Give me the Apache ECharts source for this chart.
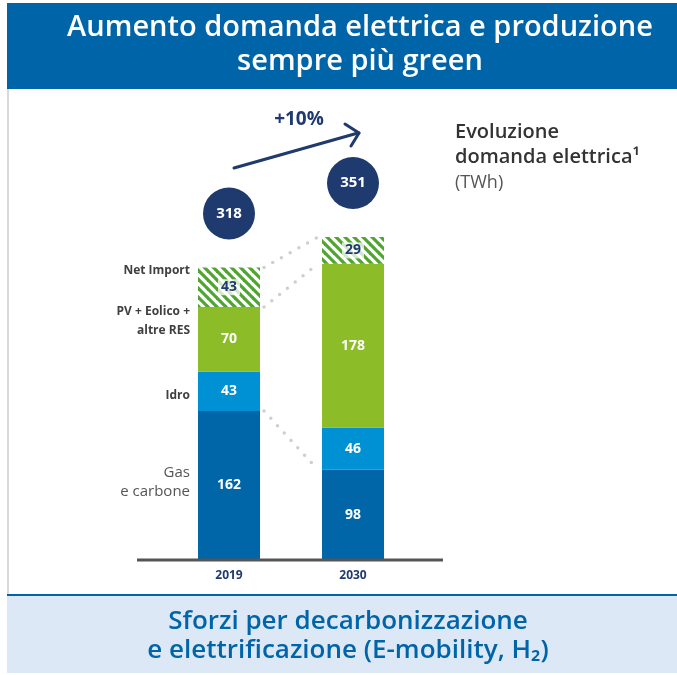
<!DOCTYPE html>
<html>
<head>
<meta charset="utf-8">
<script src="https://cdn.jsdelivr.net/npm/echarts@6/dist/echarts.min.js"></script>
<style>
  html, body { margin: 0; padding: 0; background: #fff; }
  #chart { width: 677px; height: 675px; }
</style>
</head>
<body>
<div id="chart"></div>
<script>
var years = ['2019', '2030']
var gasCarbone = [162, 98]
var idro = [43, 46]
var rinnovabili = [70, 178]
var netImport = [43, 29]
var totals = years.map(function (y, i) {
  return gasCarbone[i] + idro[i] + rinnovabili[i] + netImport[i]
})
var growthLabel = '+10%'

var navy = '#1f3a6e'
var font = '"Open Sans", "Noto Sans", sans-serif'

// hatched fill for Net Import
function hatch() {
  var s = 9
  var c = document.createElement('canvas')
  c.width = s
  c.height = s
  var ctx = c.getContext('2d')
  ctx.fillStyle = '#ffffff'
  ctx.fillRect(0, 0, s, s)
  ctx.strokeStyle = '#4fa52f'
  ctx.lineWidth = 3.2
  ;[-s, 0, s].forEach(function (k) {
    ctx.beginPath()
    ctx.moveTo(k - 1, -1)
    ctx.lineTo(k + s + 1, s + 1)
    ctx.stroke()
  })
  return c
}

var chart = echarts.init(document.getElementById('chart'))

function segLabel(color) {
  return {
    show: true,
    position: 'inside',
    color: color,
    fontSize: 14,
    fontWeight: 'bold',
    fontFamily: font
  }
}

function txt(text, x, y, fill, f, align) {
  return {
    type: 'text',
    x: x,
    y: y,
    style: {
      text: text,
      fill: fill,
      font: f,
      textAlign: align || 'left',
      textVerticalAlign: 'middle'
    }
  }
}

function seg(x1, y1, x2, y2, color, w) {
  return {
    type: 'line',
    shape: { x1: x1, y1: y1, x2: x2, y2: y2 },
    style: { stroke: color, lineWidth: w, lineCap: 'round' }
  }
}

var staticGraphics = [
  // title band
  { type: 'rect', shape: { x: 7, y: 3, width: 670, height: 86 }, style: { fill: '#0064a8' } },
  txt('Aumento domanda elettrica e produzione', 360, 28, '#fff', '600 29px ' + font, 'center'),
  txt('sempre più green', 360, 62, '#fff', '600 29px ' + font, 'center'),
  // left border
  { type: 'line', shape: { x1: 8, y1: 89, x2: 8, y2: 595 }, style: { stroke: '#d9d9d9', lineWidth: 2 } },
  // bottom band
  { type: 'rect', shape: { x: 7, y: 595, width: 670, height: 78 }, style: { fill: '#dce8f6' } },
  { type: 'line', shape: { x1: 7, y1: 595, x2: 677, y2: 595 }, style: { stroke: '#0064a8', lineWidth: 2 } },
  txt('Sforzi per decarbonizzazione', 348, 622, '#0064a8', '600 26px ' + font, 'center'),
  txt('e elettrificazione (E-mobility, H₂)', 348, 651, '#0064a8', '600 26px ' + font, 'center'),
  // axis baseline
  { type: 'line', shape: { x1: 137, y1: 560, x2: 443, y2: 560 }, style: { stroke: '#555', lineWidth: 3 }, z: 10 },
  // right-hand caption
  txt('Evoluzione', 455, 132, '#333', '600 20px ' + font),
  txt('domanda elettrica¹', 455, 157, '#333', '600 20px ' + font),
  txt('(TWh)', 455, 183, '#555', '18px ' + font),
  // growth arrow
  seg(234, 168, 358, 133, navy, 3),
  seg(345, 124, 359, 133, navy, 3),
  seg(359, 133, 351, 146, navy, 3),
  txt(growthLabel, 299, 120, navy, 'bold 19px ' + font, 'center'),
  // category labels on the left
  txt('Net Import', 190, 271, '#404040', 'bold 12px ' + font, 'right'),
  txt('PV + Eolico +', 190, 312, '#404040', 'bold 12px ' + font, 'right'),
  txt('altre RES', 190, 331, '#404040', 'bold 12px ' + font, 'right'),
  txt('Idro', 190, 396, '#404040', 'bold 12px ' + font, 'right'),
  txt('Gas', 190, 473, '#555', '15px ' + font, 'right'),
  txt('e carbone', 190, 492, '#555', '15px ' + font, 'right')
]

var option = {
  animation: false,
  grid: { left: 167, right: 262, top: 100, bottom: 115 },
  xAxis: {
    type: 'category',
    data: years,
    axisLine: { show: false },
    axisTick: { show: false },
    axisLabel: { color: navy, fontSize: 12, fontWeight: 'bold', fontFamily: font, margin: 10 }
  },
  yAxis: {
    type: 'value',
    min: 0,
    max: 500,
    show: false,
    splitLine: { show: false }
  },
  series: [
    { name: 'Gas e carbone', type: 'bar', stack: 'tot', barWidth: 62, data: gasCarbone,
      itemStyle: { color: '#0066a8' }, label: segLabel('#fff') },
    { name: 'Idro', type: 'bar', stack: 'tot', data: idro,
      itemStyle: { color: '#0091d4' }, label: segLabel('#fff') },
    { name: 'PV + Eolico + altre RES', type: 'bar', stack: 'tot', data: rinnovabili,
      itemStyle: { color: '#8cbd29' }, label: segLabel('#fff') },
    { name: 'Net Import', type: 'bar', stack: 'tot', data: netImport,
      itemStyle: { color: { image: hatch(), repeat: 'repeat' } },
      label: Object.assign(segLabel(navy), { backgroundColor: 'rgba(255,255,255,0.75)', padding: [1, 3] }) },
    { name: 'Totale', type: 'scatter', data: totals, symbol: 'circle', symbolSize: 52,
      symbolOffset: [0, -54], itemStyle: { color: navy, opacity: 1 }, z: 5,
      label: { show: true, position: 'inside', color: '#fff', fontSize: 15, fontWeight: 'bold', fontFamily: font } }
  ],
  graphic: staticGraphics
}

chart.setOption(option)

// dotted connectors between the two bars, from the stacked values
function stackTop(idx, upto) {
  var arrs = [gasCarbone, idro, rinnovabili, netImport]
  var s = 0
  for (var k = 0; k <= upto; k++) s += arrs[k][idx]
  return s
}
var half = 31
var links = [3, 2, 0].map(function (level) {
  var p1 = chart.convertToPixel({ seriesIndex: 0 }, [0, stackTop(0, level)])
  var p2 = chart.convertToPixel({ seriesIndex: 0 }, [1, stackTop(1, level)])
  return {
    type: 'line',
    shape: { x1: p1[0] + half + 4, y1: p1[1], x2: p2[0] - half - 4, y2: p2[1] },
    style: { stroke: '#cfcfcf', lineWidth: 3.5, lineCap: 'round', lineDash: [0, 10] }
  }
})
chart.setOption({ graphic: staticGraphics.concat(links) })
</script>
</body>
</html>
